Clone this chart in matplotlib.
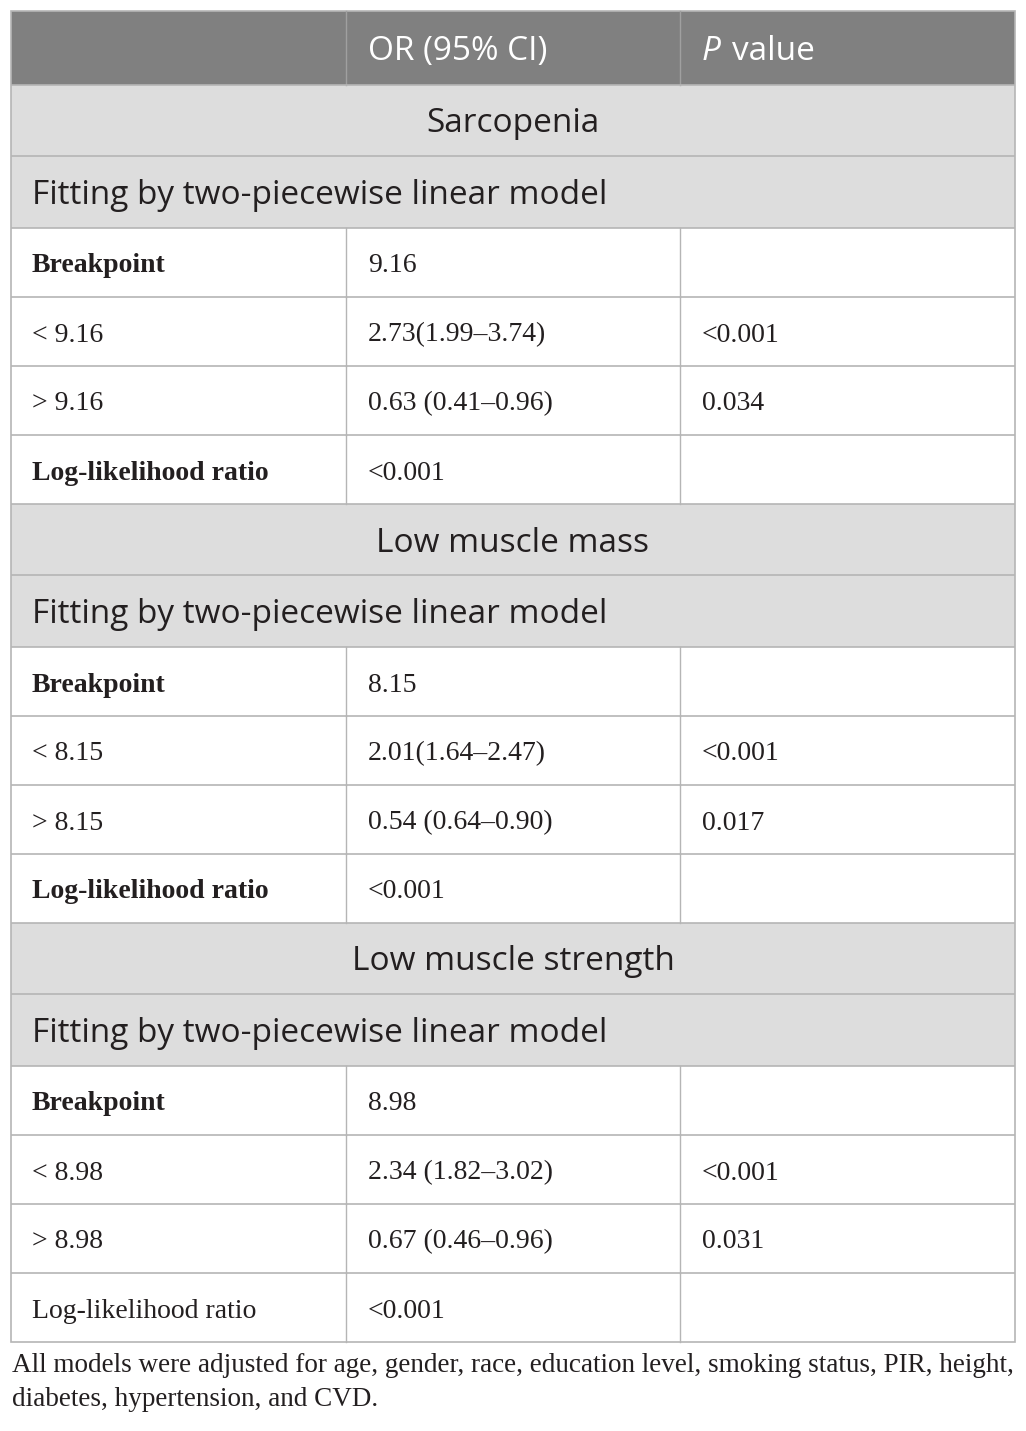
import matplotlib
matplotlib.use("Agg")
import matplotlib.pyplot as plt
from matplotlib.patches import Rectangle

# ---- data ----
header_cols = ["", "OR (95% CI)", "P value"]
sections = ["Sarcopenia", "Low muscle mass", "Low muscle strength"]
fit_label = "Fitting by two-piecewise linear model"
breakpoints = ["9.16", "8.15", "8.98"]
or_below = ["2.73(1.99–3.74)", "2.01(1.64–2.47)", "2.34 (1.82–3.02)"]
p_below = ["<0.001", "<0.001", "<0.001"]
or_above = ["0.63 (0.41–0.96)", "0.54 (0.64–0.90)", "0.67 (0.46–0.96)"]
p_above = ["0.034", "0.017", "0.031"]
llr_values = ["<0.001", "<0.001", "<0.001"]
llr_bold = [True, True, False]
footnote = ["All models were adjusted for age, gender, race, education level, smoking status, PIR, height,",
            "diabetes, hypertension, and CVD."]

# ---- layout ----
W, H = 1026, 1431
fig = plt.figure(figsize=(W / 100, H / 100), dpi=100)
ax = fig.add_axes([0, 0, 1, 1])
ax.set_xlim(0, W)
ax.set_ylim(H, 0)
ax.axis("off")

X0, X1, X2, X3 = 11, 346, 680, 1015
col_text_x = [32, 368, 702]
HEADER_BG = "#808080"
SECTION_BG = "#dddddd"
LINE = "#b5b5b5"
TXT = "#231f20"
SANS = "Open Sans"
SERIF = "Liberation Serif"
SANS_SIZE = 24
SERIF_SIZE = 20

def hline(y):
    ax.plot([X0, X3], [y, y], color=LINE, lw=1.2, solid_capstyle="butt")

def vlines(y0, y1, color=LINE):
    for x in (X1, X2):
        ax.plot([x, x], [y0, y1], color=color, lw=1.0)

y = 11
# header
hh = 74
ax.add_patch(Rectangle((X0, y), X3 - X0, hh, facecolor=HEADER_BG, edgecolor="none"))
vlines(y, y + hh, color="#a0a0a0")
cy = y + hh / 2 + 12
ax.text(col_text_x[1], cy, header_cols[1], family=SANS, fontsize=SANS_SIZE, color="white", va="baseline")
p_word, rest = header_cols[2].split(" ", 1)
ax.text(col_text_x[2], cy, p_word, family=SANS, style="italic", fontsize=SANS_SIZE, color="white", va="baseline")
ax.text(732, cy, rest, family=SANS, fontsize=SANS_SIZE, color="white", va="baseline")
y += hh

for i, sec in enumerate(sections):
    # section title row
    sh = 71
    ax.add_patch(Rectangle((X0, y), X3 - X0, sh, facecolor=SECTION_BG, edgecolor="none"))
    hline(y)
    ax.text((X0 + X3) / 2, y + sh / 2 + 12, sec, family=SANS, fontsize=SANS_SIZE, color=TXT,
            ha="center", va="baseline")
    y += sh
    fh = 72
    ax.add_patch(Rectangle((X0, y), X3 - X0, fh, facecolor=SECTION_BG, edgecolor="none"))
    hline(y)
    ax.text(col_text_x[0], y + fh / 2 + 12, fit_label, family=SANS, fontsize=SANS_SIZE, color=TXT,
            va="baseline")
    y += fh
    rows = [
        ("Breakpoint", True, breakpoints[i], ""),
        ("< " + breakpoints[i], False, or_below[i], p_below[i]),
        ("> " + breakpoints[i], False, or_above[i], p_above[i]),
        ("Log-likelihood ratio", llr_bold[i], llr_values[i], ""),
    ]
    for label, bold, c1, c2 in rows:
        rh = 69
        hline(y)
        vlines(y, y + rh)
        by = y + rh / 2 + 10
        ax.text(col_text_x[0], by, label, family=SERIF, fontsize=SERIF_SIZE, color=TXT,
                weight="bold" if bold else "normal", va="baseline")
        ax.text(col_text_x[1], by, c1, family=SERIF, fontsize=SERIF_SIZE, color=TXT, va="baseline")
        ax.text(col_text_x[2], by, c2, family=SERIF, fontsize=SERIF_SIZE, color=TXT, va="baseline")
        y += rh

# outer border
ax.add_patch(Rectangle((X0, 11), X3 - X0, y - 11, facecolor="none", edgecolor=LINE, lw=1.2))

# footnote
ax.text(12, 1372, footnote[0], family=SERIF, fontsize=19.5, color=TXT, va="baseline")
ax.text(12, 1406, footnote[1], family=SERIF, fontsize=19.5, color=TXT, va="baseline")

fig.savefig("out.png", dpi=100, facecolor="white")
